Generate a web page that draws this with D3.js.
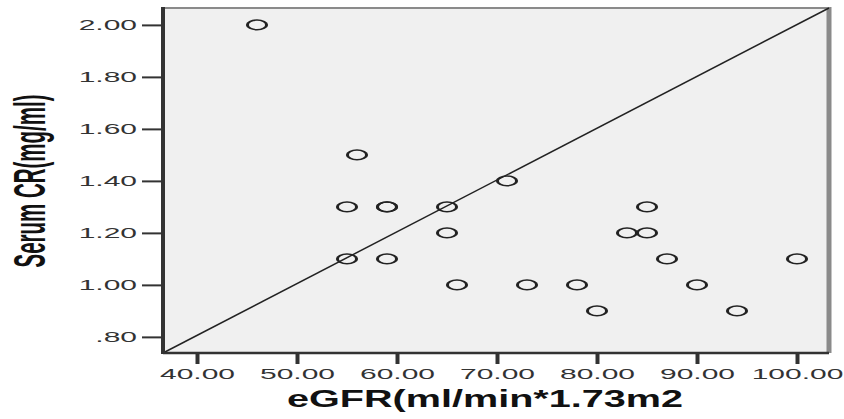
<!DOCTYPE html>
<html>
<head>
<meta charset="utf-8">
<script src="https://cdn.jsdelivr.net/npm/d3@7"></script>
<style>
  body { margin: 0; background: #fff; }
  svg { display: block; }
  text { font-family: "Liberation Sans", Arial, sans-serif; }
</style>
</head>
<body>
<svg id="chart" width="844" height="419"></svg>
<script>
// data
const eGFR    = [46, 56, 71, 55, 59, 59, 65, 85, 65, 83, 85, 55, 59, 87, 100, 66, 73, 78, 90, 80, 94];
const serumCr = [2.00, 1.50, 1.40, 1.30, 1.30, 1.30, 1.30, 1.30, 1.20, 1.20, 1.20, 1.10, 1.10, 1.10, 1.10, 1.00, 1.00, 1.00, 1.00, 0.90, 0.90];
const xTicks = [40, 50, 60, 70, 80, 90, 100];
const yTicks = [0.8, 1.0, 1.2, 1.4, 1.6, 1.8, 2.0];
const xDomain = [36.6, 103.2];
const yDomain = [0.738, 2.065];
const refLine = [[36.6, 0.738], [103.2, 2.065]]; // diagonal reference line
const xTitle = "eGFR(ml/min*1.73m2";
const yTitle = "Serum CR(mg/ml)";

const svg = d3.select("#chart");
const pLeft = 163, pRight = 829, pTop = 8, pBottom = 353;

const xScale = d3.scaleLinear().domain(xDomain).range([pLeft, pRight]);
const yScale = d3.scaleLinear().domain(yDomain).range([pBottom, pTop]);

// plot background
svg.append("rect")
  .attr("x", pLeft).attr("y", pTop)
  .attr("width", pRight - pLeft).attr("height", pBottom - pTop)
  .attr("fill", "#f0f0f0");

// grey frame top / right
svg.append("line")
  .attr("x1", pLeft).attr("x2", pRight).attr("y1", pTop).attr("y2", pTop)
  .attr("stroke", "#8a8a8a").attr("stroke-width", 2);
svg.append("line")
  .attr("x1", pRight).attr("x2", pRight).attr("y1", pTop - 1).attr("y2", pBottom)
  .attr("stroke", "#8a8a8a").attr("stroke-width", 5);

// reference line
svg.append("line")
  .attr("x1", xScale(refLine[0][0])).attr("y1", yScale(refLine[0][1]))
  .attr("x2", xScale(refLine[1][0])).attr("y2", yScale(refLine[1][1]))
  .attr("stroke", "#222").attr("stroke-width", 1.5);

// points (stretched circles like the original)
const points = eGFR.map((d, i) => ({ x: d, y: serumCr[i] }));
svg.selectAll(".pt")
  .data(points)
  .enter()
  .append("g")
  .attr("class", "pt")
  .attr("transform", d => `translate(${xScale(d.x)},${yScale(d.y)}) scale(2,1)`)
  .append("circle")
  .attr("r", 4.8)
  .attr("fill", "none")
  .attr("stroke", "#222")
  .attr("stroke-width", 1.5);

// y axis
const yFmt = d => d3.format(".2f")(d).replace(/^0\./, ".");
const gy = svg.append("g")
  .attr("transform", `translate(${pLeft},0)`)
  .call(d3.axisLeft(yScale).tickValues(yTicks).tickSize(21).tickFormat(yFmt));
gy.attr("font-family", null).attr("font-size", 15);
gy.select(".domain").remove();
gy.selectAll(".tick line").attr("stroke", "#333").attr("stroke-width", 2);
gy.selectAll(".tick text")
  .attr("x", -13)
  .attr("transform", "scale(2,1)")
  .attr("fill", "#333");

// x axis
const gx = svg.append("g")
  .attr("transform", `translate(0,${pBottom})`)
  .call(d3.axisBottom(xScale).tickValues(xTicks).tickSize(11).tickFormat(d3.format(".2f")));
gx.attr("font-family", null).attr("font-size", 15);
gx.select(".domain").remove();
gx.selectAll(".tick line").attr("stroke", "#333").attr("stroke-width", 4);
gx.selectAll(".tick text")
  .attr("y", 15)
  .attr("transform", "scale(2,1)")
  .attr("fill", "#333");

// axis lines
svg.append("line")
  .attr("x1", pLeft).attr("x2", pLeft).attr("y1", pTop - 1).attr("y2", pBottom + 1)
  .attr("stroke", "#333").attr("stroke-width", 4);
svg.append("line")
  .attr("x1", pLeft).attr("x2", pRight).attr("y1", pBottom).attr("y2", pBottom)
  .attr("stroke", "#333").attr("stroke-width", 2.5);

// x title
const xt = svg.append("text")
  .text(xTitle)
  .attr("font-size", 24)
  .attr("font-weight", "bold")
  .attr("text-anchor", "middle")
  .attr("fill", "#111");
const xLen = xt.node().getComputedTextLength();
xt.attr("transform", `translate(485,407) scale(${396 / xLen},1)`);

// y title
const yt = svg.append("text")
  .text(yTitle)
  .attr("font-size", 21)
  .attr("font-weight", "bold")
  .attr("text-anchor", "middle")
  .attr("fill", "#111");
const yLen = yt.node().getComputedTextLength();
const yFs = 21 * 173 / yLen;
yt.attr("font-size", yFs)
  .attr("transform", `translate(45,181) scale(${32 / (0.716 * yFs)},1) rotate(-90)`);
</script>
</body>
</html>
